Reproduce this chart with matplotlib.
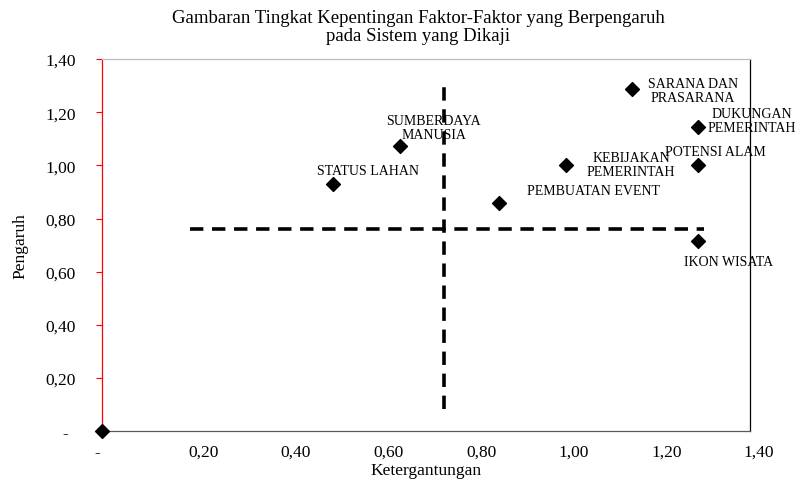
import matplotlib.pyplot as plt
import matplotlib.transforms as mtransforms
from matplotlib.ticker import FuncFormatter

plt.rcParams['font.family'] = ['Liberation Serif', 'DejaVu Serif']

# data
labels = ['', 'STATUS LAHAN', 'SUMBERDAYA\nMANUSIA', 'PEMBUATAN EVENT',
          'KEBIJAKAN\nPEMERINTAH', 'SARANA DAN\nPRASARANA',
          'DUKUNGAN\nPEMERINTAH', 'POTENSI ALAM', 'IKON WISATA']
ketergantungan = [0.0, 0.50, 0.645, 0.857, 1.002, 1.145, 1.287, 1.287, 1.287]
pengaruh = [0.0, 0.93, 1.073, 0.858, 1.0, 1.287, 1.144, 1.0, 0.715]
# label offsets in points
offsets = [(0, 0), (25, 10), (24, 13), (68, 9), (47, 1), (44, -1), (39, 5), (13, 10), (22, -15)]

# quadrant split lines
h_y, h_x0, h_x1 = 0.76, 0.19, 1.30
v_x, v_y0, v_y1 = 0.739, 0.083, 1.325

fig = plt.figure(figsize=(7.96, 4.85), dpi=100)
ax = fig.add_axes([0.128, 0.109, 0.814, 0.767])

ax.plot([h_x0, h_x1], [h_y, h_y], color='black', lw=2.6, ls=(0, (3.7, 2.4)))
ax.plot([v_x, v_x], [v_y0, v_y1], color='black', lw=2.6, ls=(0, (3.7, 2.4)))

ax.scatter(ketergantungan, pengaruh, marker='D', s=50, color='black', zorder=5, clip_on=False)
for lab, x, y, off in zip(labels, ketergantungan, pengaruh, offsets):
    if lab:
        ax.annotate(lab, (x, y), xytext=off, textcoords='offset points',
                    ha='center', va='center', fontsize=10, linespacing=1.1)

ax.set_xlim(0, 1.4)
ax.set_ylim(0, 1.4)
ax.set_xticks([0, 0.2, 0.4, 0.6, 0.8, 1.0, 1.2, 1.4])
ax.set_yticks([0, 0.2, 0.4, 0.6, 0.8, 1.0, 1.2, 1.4])

fmt = FuncFormatter(lambda v, p: '-' if abs(v) < 1e-9 else f'{v:.2f}'.replace('.', ','))
ax.xaxis.set_major_formatter(fmt)
ax.yaxis.set_major_formatter(fmt)

ax.tick_params(axis='x', length=0, pad=9, labelsize=12.5)
ax.tick_params(axis='y', length=4, color='red', pad=15, labelsize=12.5)

# Excel-like placement of tick labels
xl = ax.get_xticklabels()
xl[0].set_transform(xl[0].get_transform() + mtransforms.ScaledTranslation(-3.5 / 72, 0, fig.dpi_scale_trans))
for lbl in xl[1:]:
    lbl.set_transform(lbl.get_transform() + mtransforms.ScaledTranslation(6.5 / 72, 0, fig.dpi_scale_trans))
yl = ax.get_yticklabels()
yl[0].set_transform(yl[0].get_transform() + mtransforms.ScaledTranslation(-5 / 72, 0, fig.dpi_scale_trans))

ax.spines['left'].set_color('red')
ax.spines['top'].set_color('#bfbfbf')
ax.spines['right'].set_color('black')
ax.spines['bottom'].set_color('#595959')
for s in ax.spines.values():
    s.set_linewidth(0.9)

ax.set_xlabel('Ketergantungan', fontsize=12.5, labelpad=2)
ax.set_ylabel('Pengaruh', fontsize=12.5, labelpad=12)
fig.text(0.525, 0.98, 'Gambaran Tingkat Kepentingan Faktor-Faktor yang Berpengaruh\npada Sistem yang Dikaji',
         ha='center', va='top', fontsize=13.5, linespacing=1.1)

fig.savefig('out.png', dpi=100)
